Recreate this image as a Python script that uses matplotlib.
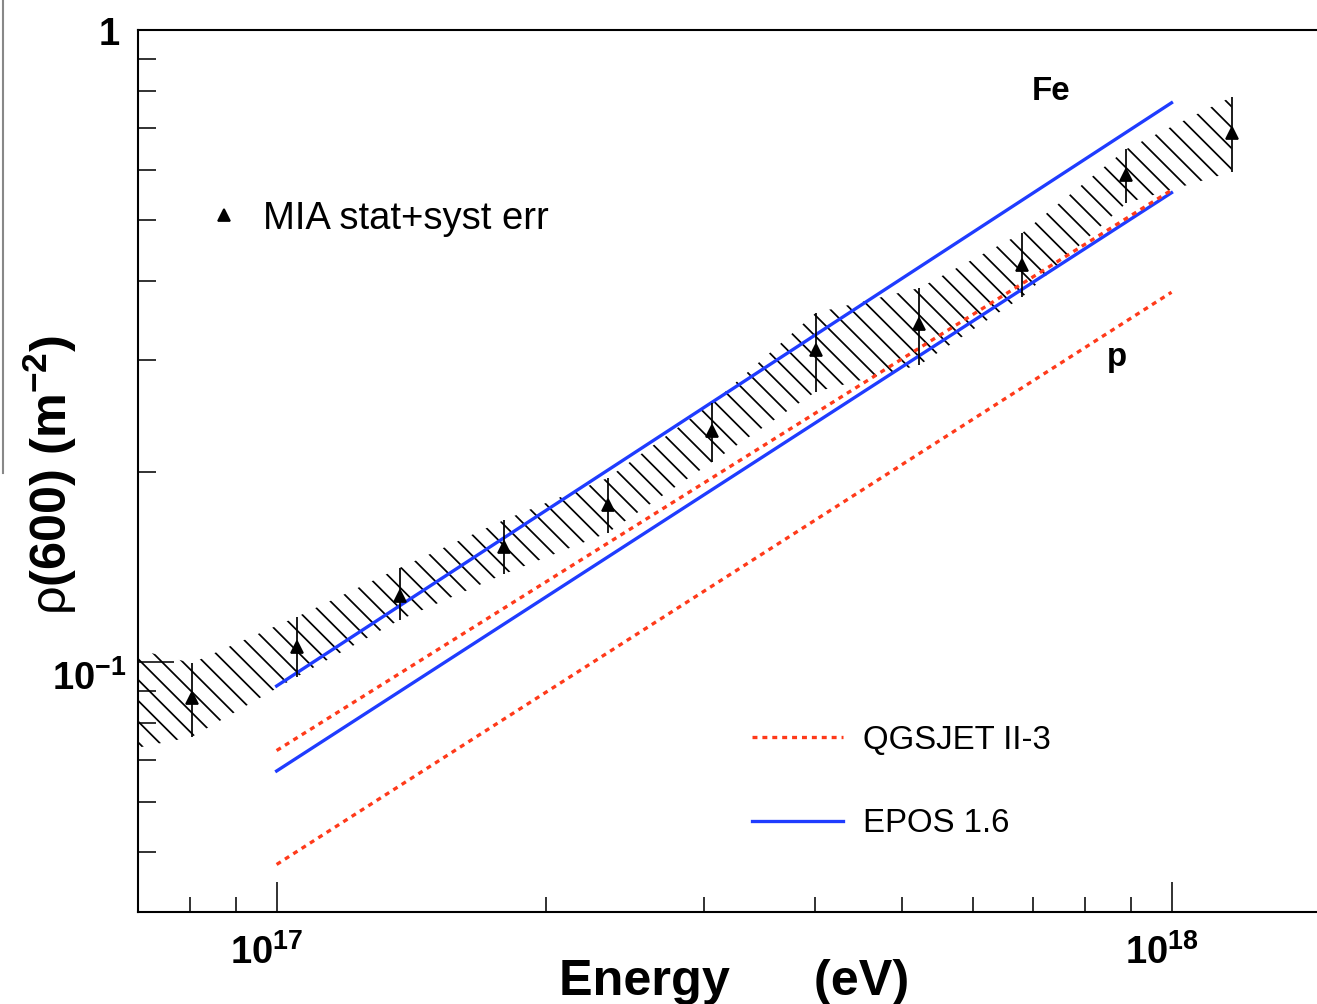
import matplotlib
matplotlib.use('Agg')
import matplotlib.pyplot as plt
from matplotlib.lines import Line2D
from matplotlib.ticker import LogLocator, NullFormatter

plt.rcParams['font.family'] = ['Liberation Sans', 'DejaVu Sans']
plt.rcParams['mathtext.fontset'] = 'custom'
plt.rcParams['mathtext.rm'] = 'Liberation Sans'
plt.rcParams['mathtext.bf'] = 'Liberation Sans:bold'
plt.rcParams['mathtext.it'] = 'Liberation Sans:italic'
plt.rcParams['hatch.linewidth'] = 1.0

# MIA measurement: energy (eV), rho(600) and the ends of the stat+syst error bars
energy = [8.04e16, 1.053e17, 1.372e17, 1.797e17, 2.343e17, 3.068e17,
          4.002e17, 5.228e17, 6.812e17, 8.906e17, 1.167e18]
rho = [0.0877, 0.1056, 0.1272, 0.152, 0.1772, 0.232,
       0.3117, 0.3425, 0.4248, 0.5897, 0.687]
rho_hi = [0.0996, 0.1178, 0.1408, 0.1678, 0.1954, 0.2569,
          0.3566, 0.3906, 0.4774, 0.6481, 0.7834]
rho_lo = [0.0761, 0.0947, 0.1165, 0.1378, 0.160, 0.2073,
          0.2675, 0.2951, 0.378, 0.5325, 0.5961]

# the hatched band starts from one more point left of the visible range
band_energy = [6.15e16] + energy
band_hi = [0.1093] + rho_hi
band_lo = [0.0705] + rho_lo

# simulation predictions (Fe and p) at the ends of the energy range
model_energy = [1e17, 1e18]
epos_fe = [0.0916, 0.767]
epos_p = [0.0672, 0.5527]
qgsjet_fe = [0.0724, 0.558]
qgsjet_p = [0.0478, 0.3846]

W, H, DPI = 1317, 1004, 125
fig = plt.figure(figsize=(W / DPI, H / DPI), dpi=DPI)
ax = fig.add_axes([138 / W, 92 / H, 1179 / W, 882 / H])
ax.set_xscale('log')
ax.set_yscale('log')
ax.set_xlim(7e16, 1.454e18)
ax.set_ylim(0.0402, 1.0)

blue = '#1f3cff'
red = '#ff3a1a'

ax.fill_between(band_energy, band_lo, band_hi, facecolor='none',
                edgecolor='black', hatch='\\\\', linewidth=0)

ax.plot(model_energy, epos_fe, color=blue, lw=1.9)
ax.plot(model_energy, epos_p, color=blue, lw=1.9)
ax.plot(model_energy, qgsjet_fe, color=red, lw=1.9, ls=(0, (1.5, 1.5)))
ax.plot(model_energy, qgsjet_p, color=red, lw=1.9, ls=(0, (1.5, 1.5)))

yerr = [[r - lo for r, lo in zip(rho, rho_lo)],
        [hi - r for r, hi in zip(rho, rho_hi)]]
ax.errorbar(energy, rho, yerr=yerr, fmt='^', color='black', ms=7,
            elinewidth=1.0, capsize=0, zorder=5)

ax.text(7.33e17, 0.776, 'Fe', fontsize=19, fontweight='bold', ha='center', va='baseline')
ax.text(8.68e17, 0.294, 'p', fontsize=19, fontweight='bold', ha='center', va='baseline')

# legends
h_mia = Line2D([], [], marker='^', color='black', ls='none', ms=7)
leg1 = ax.legend([h_mia], ['MIA stat+syst err'], loc='center left',
                 bbox_to_anchor=(0.0568, 0.786), frameon=False, fontsize=22,
                 handlelength=1.0, handletextpad=0.52, borderpad=0, borderaxespad=0)
ax.add_artist(leg1)
h_q = Line2D([], [], color=red, lw=1.9, ls=(0, (1.5, 1.5)))
h_e = Line2D([], [], color=blue, lw=1.9)
ax.legend([h_q, h_e], ['QGSJET II-3', 'EPOS 1.6'], loc='center left',
          bbox_to_anchor=(0.5208, 0.1474), frameon=False, fontsize=19,
          handlelength=2.76, handletextpad=0.6, labelspacing=1.58,
          borderpad=0, borderaxespad=0)

# axes frame and ticks
for side in ['left', 'bottom', 'top']:
    ax.spines[side].set_linewidth(1.2)
ax.spines['right'].set_visible(False)
ax.xaxis.set_major_locator(LogLocator(base=10))
ax.xaxis.set_minor_locator(LogLocator(base=10, subs=range(2, 10)))
ax.xaxis.set_major_formatter(NullFormatter())
ax.xaxis.set_minor_formatter(NullFormatter())
ax.yaxis.set_major_formatter(NullFormatter())
ax.yaxis.set_minor_formatter(NullFormatter())
ax.tick_params(which='both', direction='in', top=False, right=False, width=0.9)
ax.xaxis.set_tick_params(which='major', length=17)
ax.xaxis.set_tick_params(which='minor', length=8.7)
ax.yaxis.set_tick_params(which='major', length=21)
ax.yaxis.set_tick_params(which='minor', length=10.4)

x_tick_vals = [1e17, 1e18]
x_tick_labels = [r'$\mathbf{10^{17}}$', r'$\mathbf{10^{18}}$']
for v, s in zip(x_tick_vals, x_tick_labels):
    ax.annotate(s, xy=(v, 0), xycoords=('data', 'axes fraction'),
                xytext=(-10, -22), textcoords='offset pixels',
                ha='center', va='top', fontsize=22)

y_tick_vals = [1.0, 0.1]
y_tick_labels = [r'$\mathbf{1}$', r'$\mathbf{10^{-1}}$']
y_tick_dy = [-15, -28]
y_tick_dx = [-18, -11]
for v, s, dx, dy in zip(y_tick_vals, y_tick_labels, y_tick_dx, y_tick_dy):
    ax.annotate(s, xy=(0, v), xycoords=('axes fraction', 'data'),
                xytext=(dx, dy), textcoords='offset pixels',
                ha='right', va='baseline', fontsize=22)

fig.text(734 / W, 1 - 995 / H, 'Energy      (eV)', ha='center', va='baseline',
         fontsize=29, fontweight='bold')
fig.text(50 / W, 1 - 475 / H, r'$\mathrm{\rho}\mathbf{(600)\ (m^{-2})}$',
         rotation=90, ha='center', va='center', fontsize=29)

# frame edge of the neighbouring panel at the left border
fig.add_artist(Line2D([2.5 / W, 2.5 / W], [1, 1 - 473 / H], color='#888888', lw=1.2))

fig.savefig('out.png', dpi=DPI)
